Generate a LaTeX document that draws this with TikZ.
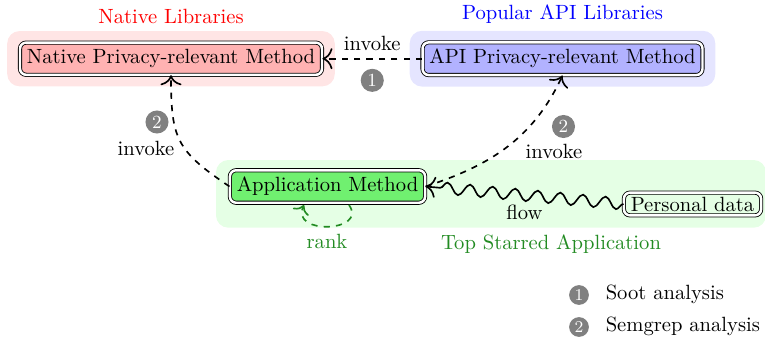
\documentclass[tikz,border=0pt]{standalone}
\usetikzlibrary{decorations.pathmorphing, fit, backgrounds, arrows.meta}

\definecolor{appgreen}{RGB}{112,240,112}
\definecolor{darkgreen}{RGB}{34,139,34}

\tikzset{
  method/.style={draw, double, double distance=1.2pt, rounded corners=3pt, text=black},
  groupbox/.style={rounded corners=6pt, inner xsep=6pt, inner ysep=5.4pt},
  tip/.style={-{To[scale=1.45]}},
  invokearrow/.style={tip, dashed, thick},
  flowarrow/.style={tip, thick, decorate,
    decoration={snake, amplitude=2.8pt, segment length=11pt, post length=2mm}},
  rankarrow/.style={-{To[scale=1.2]}, dashed, thick, draw=darkgreen},
  badge/.style={circle, fill=gray, text=white, inner sep=0pt,
    minimum size=11.2pt, font=\small},
  keybadge/.style={circle, fill=gray, text=white, inner sep=0pt,
    minimum size=9.6pt, font=\footnotesize},
}

\begin{document}
\begin{tikzpicture}[x=0.4854pt, y=0.4854pt]
  \useasboundingbox (0,0) rectangle (765,-340);

  % method nodes
  \node[method, fill=red!30]  (native)   at (171,-58.7)  {Native Privacy-relevant Method};
  \node[method, fill=blue!30] (api)      at (562.5,-58.7) {API Privacy-relevant Method};
  \node[method, fill=appgreen] (app) at (327.5,-186.5) {Application Method};
  \node[method, fill=green!10, inner ysep=2pt] (personal) at (692.5,-204) {Personal data};

  % library / application groups
  \begin{scope}[on background layer]
    \node[groupbox, fill=red!10, fit=(native)]  (nativebg) {};
    \node[groupbox, fill=blue!10, fit=(api)]    (apibg) {};
    \fill[green!10, rounded corners=6pt] (216,-160) rectangle (766,-227.7);
  \end{scope}
  \coordinate (appbgbottom) at (551,-227.7);

  \node[above, text=red]  at (nativebg.north) {Native Libraries};
  \node[above, text=blue] at (apibg.north)    {Popular API Libraries};
  \node[below, text=darkgreen] at (appbgbottom) {Top Starred Application};

  % invocations
  \draw[invokearrow] (api.west) -- node[above] {invoke}
    node[badge, below=4.5pt] {1} (native.east);
  \draw[invokearrow] (app.west) to[out=146, in=-90, looseness=1.3] (native.south);
  \node[badge] at (157,-122) {2};
  \node at (146,-148) {invoke};
  \draw[invokearrow] (app.east) to[out=18, in=-115] (api.south);
  \node[badge] at (563.5,-126.5) {2};
  \node at (554,-151) {invoke};

  % data flow
  \draw[flowarrow] (personal.west) -- node[below=1pt] {flow} (app.east);

  % ranking loop
  \coordinate (loopstart) at (349,-205);
  \coordinate (loopend)   at (304,-205);
  \draw[rankarrow] (loopstart) to[out=-55, in=-115, looseness=1.9] (loopend);
  \node[text=darkgreen] (ranklabel) at (327,-241) {rank};

  % key
  \node[keybadge] (k1) at (579,-295) {1};
  \node[anchor=base west] at (598.5,-299.3) {Soot analysis};
  \node[keybadge] (k2) at (579,-327) {2};
  \node[anchor=base west] at (598.5,-331.7) {Semgrep analysis};
\end{tikzpicture}
\end{document}
